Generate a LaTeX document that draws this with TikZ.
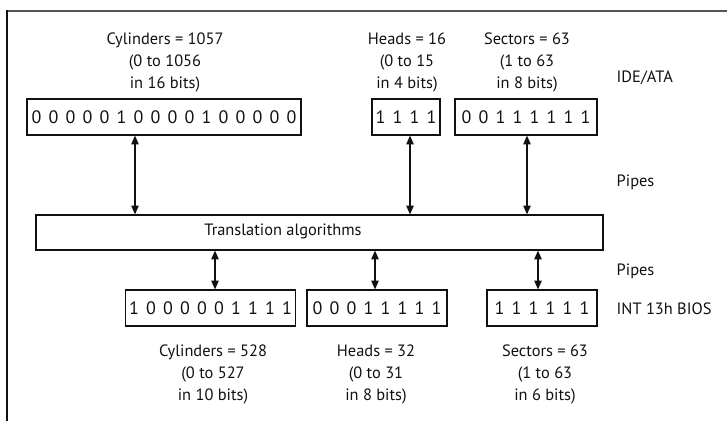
\documentclass[tikz,border=0pt]{standalone}
\usepackage{fontspec}
\setmainfont{PT Sans}
\usetikzlibrary{arrows.meta}
\definecolor{ink}{HTML}{111111}
\definecolor{frame}{HTML}{555555}
\newcommand\bitrow[1]{\foreach \b in {#1}{\makebox[12.75pt]{\b}}}

\begin{document}
\begin{tikzpicture}[x=0.75pt,y=-0.75pt,>={Triangle[length=6.5pt,width=5.5pt]},
  font=\fontsize{12.3}{16.5}\selectfont,
  bits/.style={draw=ink,line width=0.9pt,inner sep=0pt,minimum height=27pt,text=ink,
    font=\fontsize{13.5}{16.5}\selectfont},
  note/.style={align=center,text=ink},
  side/.style={anchor=west,text=ink},
  pipe/.style={<->,draw=ink,line width=0.9pt}]
  \useasboundingbox (0,0) rectangle (727,421);
  \draw[frame,line width=1.6pt] (727,11) -- (6.2,11);
  \draw[ink,line width=1.6pt] (7,10.2) -- (7,421);

  \node[note] (cylide) at (165,62) {Cylinders = 1057\\(0 to 1056\\in 16 bits)};
  \node[note] (headide) at (407,62) {Heads = 16\\(0 to 15\\in 4 bits)};
  \node[note] (secide) at (527,62) {Sectors = 63\\(1 to 63\\in 8 bits)};
  \node[side] (ide) at (612,78) {IDE/ATA};

  \node[bits,minimum width=205.5pt] (topcyl) at (164,117) {\bitrow{0,0,0,0,0,1,0,0,0,0,1,0,0,0,0,0}};
  \node[bits,minimum width=51pt] (tophead) at (406,117) {\bitrow{1,1,1,1}};
  \node[bits,minimum width=106.5pt] (topsec) at (526,117) {\bitrow{0,0,1,1,1,1,1,1}};

  \node[side] (pipesup) at (612,182) {Pipes};
  \node[bits,minimum width=425.25pt,minimum height=26.25pt] (trans) at (319.5,232.5) {};
  \node[text=ink] (translabel) at (283,231) {Translation algorithms};
  \node[side] (pipesdown) at (612,271) {Pipes};

  \node[bits,minimum width=126.75pt] (botcyl) at (210.5,308) {\bitrow{1,0,0,0,0,0,1,1,1,1}};
  \node[bits,minimum width=105pt] (bothead) at (377,308) {\bitrow{0,0,0,1,1,1,1,1}};
  \node[bits,minimum width=82.5pt] (botsec) at (542,308) {\bitrow{1,1,1,1,1,1}};
  \node[side] (bios) at (612,309) {INT 13h BIOS};

  \node[note] (cylbios) at (213,374) {Cylinders = 528\\(0 to 527\\in 10 bits)};
  \node[note] (headbios) at (376,374) {Heads = 32\\(0 to 31\\in 8 bits)};
  \node[note] (secbios) at (545,374) {Sectors = 63\\(1 to 63\\in 6 bits)};

  \draw[pipe] (topcyl.south -| 135,0) -- (trans.north -| 135,0);
  \draw[pipe] (tophead.south -| 410,0) -- (trans.north -| 410,0);
  \draw[pipe] (topsec.south -| 527,0) -- (trans.north -| 527,0);
  \draw[pipe] (trans.south -| 215,0) -- (botcyl.north -| 215,0);
  \draw[pipe] (trans.south -| 375,0) -- (bothead.north -| 375,0);
  \draw[pipe] (trans.south -| 538,0) -- (botsec.north -| 538,0);
\end{tikzpicture}
\end{document}
